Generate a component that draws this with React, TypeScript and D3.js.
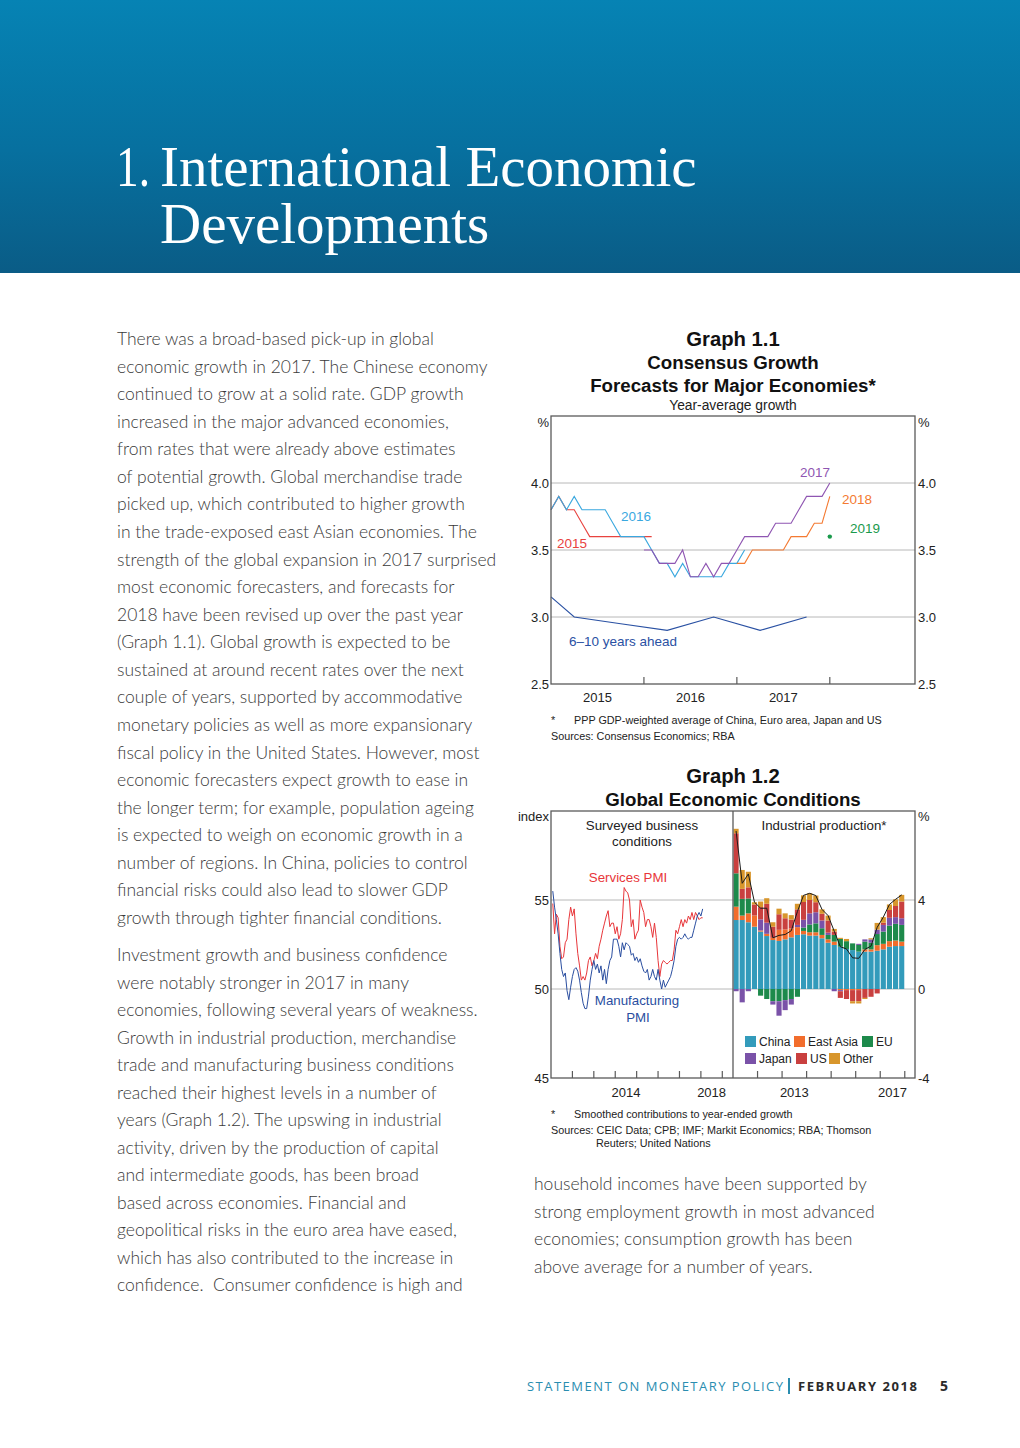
import React from 'react';
import * as d3 from 'd3';

// ---------- Page text ----------
const titleNumber = '1.';
const titleLines = ['International Economic', 'Developments'];

const leftParagraph1 = [
  'There was a broad-based pick-up in global',
  'economic growth in 2017. The Chinese economy',
  'continued to grow at a solid rate. GDP growth',
  'increased in the major advanced economies,',
  'from rates that were already above estimates',
  'of potential growth. Global merchandise trade',
  'picked up, which contributed to higher growth',
  'in the trade-exposed east Asian economies. The',
  'strength of the global expansion in 2017 surprised',
  'most economic forecasters, and forecasts for',
  '2018 have been revised up over the past year',
  '(Graph 1.1). Global growth is expected to be',
  'sustained at around recent rates over the next',
  'couple of years, supported by accommodative',
  'monetary policies as well as more expansionary',
  'fiscal policy in the United States. However, most',
  'economic forecasters expect growth to ease in',
  'the longer term; for example, population ageing',
  'is expected to weigh on economic growth in a',
  'number of regions. In China, policies to control',
  'financial risks could also lead to slower GDP',
  'growth through tighter financial conditions.',
];
const leftParagraph2 = [
  'Investment growth and business confidence',
  'were notably stronger in 2017 in many',
  'economies, following several years of weakness.',
  'Growth in industrial production, merchandise',
  'trade and manufacturing business conditions',
  'reached their highest levels in a number of',
  'years (Graph 1.2). The upswing in industrial',
  'activity, driven by the production of capital',
  'and intermediate goods, has been broad',
  'based across economies. Financial and',
  'geopolitical risks in the euro area have eased,',
  'which has also contributed to the increase in',
  'confidence.\u00a0 Consumer confidence is high and',
];
const rightParagraph = [
  'household incomes have been supported by',
  'strong employment growth in most advanced',
  'economies; consumption growth has been',
  'above average for a number of years.',
];

// ---------- Graph 1.1 data (monthly index, 0 = Jan 2015) ----------
const g1YTicks = [2.5, 3.0, 3.5, 4.0];
const g1Gridlines = [3.0, 3.5, 4.0];
const g1YearLabels = ['2015', '2016', '2017'];
const fc2015Start = 0;
const fc2015 = [3.8, 3.9, 3.8, 3.8, 3.7, 3.6, 3.6, 3.6, 3.6, 3.6, 3.6, 3.6, 3.6, 3.6];
const fc2016Start = 0;
const fc2016 = [3.8, 3.9, 3.8, 3.9, 3.8, 3.8, 3.8, 3.8, 3.7, 3.6, 3.6, 3.6, 3.6, 3.5, 3.4, 3.4, 3.3, 3.4, 3.3, 3.3, 3.3, 3.3, 3.3, 3.4, 3.4, 3.5];
const fc2017Start = 12;
const fc2017 = [3.5, 3.5, 3.4, 3.4, 3.4, 3.5, 3.3, 3.3, 3.4, 3.3, 3.4, 3.4, 3.5, 3.6, 3.6, 3.6, 3.6, 3.7, 3.7, 3.7, 3.8, 3.9, 3.9, 3.9, 4.0];
const fc2018Start = 24;
const fc2018 = [3.4, 3.4, 3.5, 3.5, 3.5, 3.5, 3.5, 3.6, 3.6, 3.6, 3.7, 3.7, 3.9];
const fc2019Month = 36;
const fc2019Value = 3.6;
const longTermMonths = [0, 3, 9, 15, 21, 27, 33];
const longTermValues = [3.15, 3.0, 2.95, 2.9, 3.0, 2.9, 3.0];

// ---------- Graph 1.2 data ----------
// PMIs, monthly from Feb 2011
const pmiStartMonth = 1;
const servicesPMI = [54.8, 53.1, 54.2, 54.0, 52.4, 51.7, 51.8, 52.6, 52.8, 53.9, 54.6, 54.1, 54.5, 53.1, 52.0, 51.3, 50.5, 50.7, 50.5, 50.9, 51.6, 51.8, 51.3, 51.6, 52.0, 51.7, 52.4, 52.8, 53.3, 53.7, 54.1, 54.4, 53.5, 53.7, 53.7, 53.1, 53.5, 52.8, 53.1, 53.9, 55.7, 55.5, 55.4, 55.0, 53.5, 53.9, 52.8, 53.1, 53.3, 55.0, 54.6, 54.3, 53.5, 53.9, 53.9, 53.5, 52.9, 53.7, 52.9, 51.6, 50.7, 51.4, 51.6, 51.5, 51.4, 51.5, 51.6, 51.6, 52.2, 53.3, 53.1, 53.5, 53.9, 53.5, 53.9, 53.7, 54.1, 53.9, 54.3, 53.9, 54.3, 54.1, 53.9, 54.0, 54.0];
const manufacturingPMI = [55.5, 54.6, 53.9, 53.1, 52.0, 51.1, 50.7, 50.9, 49.9, 49.4, 50.1, 50.7, 51.1, 51.2, 51.0, 50.5, 49.8, 49.2, 48.9, 48.9, 49.6, 50.5, 51.1, 51.6, 51.1, 51.4, 50.9, 51.3, 50.5, 51.1, 50.3, 51.1, 51.6, 51.8, 52.8, 52.8, 52.8, 52.4, 51.8, 52.6, 52.2, 52.6, 52.5, 52.4, 51.9, 52.0, 51.6, 51.8, 51.5, 51.7, 51.3, 51.0, 50.9, 51.1, 50.5, 50.7, 51.1, 50.7, 50.5, 51.1, 50.5, 50.0, 50.5, 50.1, 50.3, 50.5, 50.7, 51.1, 51.6, 52.4, 52.8, 52.9, 52.8, 52.9, 53.1, 52.9, 52.8, 52.9, 52.9, 53.3, 53.7, 54.1, 54.3, 54.1, 54.5];
const pmiYTicks = [45, 50, 55];
const pmiYearLabels = ['2014', '2018'];

// Industrial production contributions, quarterly from 2011 Q1 (ppt)
const ipKeys = ['China', 'East Asia', 'EU', 'Japan', 'US', 'Other'];
const ipChina = [3.1, 3.1, 3.0, 2.8, 2.58, 2.38, 2.2, 2.16, 2.23, 2.32, 2.43, 2.46, 2.4, 2.4, 2.28, 2.08, 1.98, 1.9, 1.8, 1.75, 1.68, 1.68, 1.68, 1.72, 1.78, 1.9, 1.93, 1.93];
const ipEastAsia = [0.6, 0.2, 0.4, 0.5, 0.05, 0.1, 0.1, 0.5, 0.45, 0.4, 0.35, 0.15, 0.15, 0.15, 0.15, 0.15, 0.15, -0.05, -0.05, -0.05, -0.05, 0.1, 0.1, 0.25, 0.25, 0.25, 0.25, 0.2];
const ipEU = [1.5, 0.75, 0.67, 0, -0.3, -0.45, -0.55, -0.55, -0.5, -0.45, -0.35, 0.15, 0.35, 0.4, 0.3, 0.2, 0.3, 0.35, 0.35, 0.3, 0.3, 0.35, 0.3, 0.5, 0.55, 0.7, 0.75, 0.75];
const ipJapan = [-0.1, -0.6, -0.1, 0, 0.5, 0.5, -0.15, -0.65, -0.45, -0.25, 0.1, 0.35, 0.5, 0.5, 0.35, 0.1, -0.1, -0.05, 0, 0, 0.05, 0.1, 0.15, 0.2, 0.3, 0.35, 0.3, 0.3];
const ipUS = [1.8, 0.45, 0.5, 0.5, 0.55, 0.85, 0.5, 0.7, 0.5, 0.4, 0.7, 0.8, 0.6, 0.45, 0.3, 0.55, 0.15, -0.3, -0.4, -0.5, -0.5, -0.4, -0.35, -0.2, 0.1, 0.35, 0.5, 0.75];
const ipOther = [0.2, 0.85, 0.7, 0.1, 0.25, 0.25, 0.2, 0.25, 0.22, 0.2, 0.25, 0.3, 0.3, 0.3, 0.2, 0.22, 0.12, 0.05, 0.1, -0.1, -0.1, -0.05, 0.05, 0.3, 0.25, 0.25, 0.3, 0.3];
const ipYTicks = [-4, 0, 4];
const ipYearLabels = ['2013', '2017'];

const ipColors: Record<string, string> = {
  China: '#339bbb',
  'East Asia': '#f26d2c',
  EU: '#1d8a4b',
  Japan: '#7a52a8',
  US: '#c9403f',
  Other: '#d8962c',
};

const SANS = '"Liberation Sans", Arial, sans-serif';
const AXIS = '#5a5a5a';
const GRID = '#b8b8b8';

function Header() {
  return (
    <g>
      <defs>
        <linearGradient id="hdr" x1="0" y1="0" x2="0" y2="1">
          <stop offset="0" stopColor="#0683b4" />
          <stop offset="0.55" stopColor="#07709f" />
          <stop offset="1" stopColor="#0a5c86" />
        </linearGradient>
      </defs>
      <rect x={0} y={0} width={1020} height={273} fill="url(#hdr)" />
      <g fontFamily='"Liberation Serif", "Times New Roman", serif' fill="#ffffff" fontSize={57}>
        <text x={116} y={186} textLength={34} lengthAdjust="spacingAndGlyphs">{titleNumber}</text>
        <text x={160} y={186}>{titleLines[0]}</text>
        <text x={160} y={243}>{titleLines[1]}</text>
      </g>
    </g>
  );
}

function BodyText() {
  const style = { fontFamily: 'Lato, "Open Sans", sans-serif', fontWeight: 300, fontSize: 17.5, fill: '#3a3a3a' } as const;
  return (
    <g style={style as any}>
      {leftParagraph1.map((t, i) => (
        <text key={'a' + i} x={117} y={345 + 27.57 * i}>{t}</text>
      ))}
      {leftParagraph2.map((t, i) => (
        <text key={'b' + i} x={117} y={961 + 27.5 * i}>{t}</text>
      ))}
      {rightParagraph.map((t, i) => (
        <text key={'c' + i} x={534} y={1190 + 27.7 * i}>{t}</text>
      ))}
    </g>
  );
}

function Graph11() {
  const L = 551, R = 915, T = 416, B = 684;
  const x = d3.scaleLinear().domain([0, 47]).range([L, R]);
  const y = d3.scaleLinear().domain([2.5, 4.5]).range([B, T]);
  const mk = (vals: number[], start: number) =>
    d3.line<number>().x((_, i) => x(start + i)).y((d) => y(d))(vals) || '';
  const lt = d3.line<number>().x((_, i) => x(longTermMonths[i])).y((d) => y(d))(longTermValues) || '';
  const cx = 733;
  return (
    <g fontFamily={SANS}>
      <text x={cx} y={346} textAnchor="middle" fontSize={20.3} fontWeight="bold" fill="#111">Graph 1.1</text>
      <text x={cx} y={369} textAnchor="middle" fontSize={18.7} fontWeight="bold" fill="#111">Consensus Growth</text>
      <text x={cx} y={392} textAnchor="middle" fontSize={18.7} fontWeight="bold" fill="#111">Forecasts for Major Economies*</text>
      <text x={cx} y={410} textAnchor="middle" fontSize={13.8} fill="#222">Year-average growth</text>

      {g1Gridlines.map((v) => (
        <line key={v} x1={L} x2={R} y1={y(v)} y2={y(v)} stroke={GRID} strokeWidth={1} />
      ))}

      <path d={lt} fill="none" stroke="#2a51a3" strokeWidth={1.1} />
      <path d={mk(fc2015, fc2015Start)} fill="none" stroke="#e8433f" strokeWidth={1.1} />
      <path d={mk(fc2016, fc2016Start)} fill="none" stroke="#3aa8df" strokeWidth={1.1} />
      <path d={mk(fc2017, fc2017Start)} fill="none" stroke="#8f56b2" strokeWidth={1.1} />
      <path d={mk(fc2018, fc2018Start)} fill="none" stroke="#f47a32" strokeWidth={1.1} />
      <circle cx={x(fc2019Month)} cy={y(fc2019Value)} r={2.2} fill="#1a9a4c" />

      <rect x={L} y={T} width={R - L} height={B - T} fill="none" stroke={AXIS} strokeWidth={1.3} />
      {[12, 24, 36].map((m) => (
        <line key={m} x1={x(m)} x2={x(m)} y1={B} y2={B - 7} stroke={AXIS} strokeWidth={1.2} />
      ))}
      {g1YearLabels.map((t, i) => (
        <text key={t} x={x(6 + 12 * i)} y={702} textAnchor="middle" fontSize={13} fill="#222">{t}</text>
      ))}
      {g1YTicks.map((v) => (
        <g key={v}>
          <text x={549} y={y(v) + 5} textAnchor="end" fontSize={13} fill="#222">{v.toFixed(1)}</text>
          <text x={918} y={y(v) + 5} fontSize={13} fill="#222">{v.toFixed(1)}</text>
        </g>
      ))}
      <text x={549} y={427} textAnchor="end" fontSize={13} fill="#222">%</text>
      <text x={918} y={427} fontSize={13} fill="#222">%</text>

      <text x={800} y={477} fontSize={13.5} fill="#8f56b2">2017</text>
      <text x={842} y={504} fontSize={13.5} fill="#f47a32">2018</text>
      <text x={850} y={533} fontSize={13.5} fill="#1a9a4c">2019</text>
      <text x={621} y={521} fontSize={13.5} fill="#3aa8df">2016</text>
      <text x={557} y={548} fontSize={13.5} fill="#e8433f">2015</text>
      <text x={569} y={646} fontSize={13.5} fill="#2a51a3">6–10 years ahead</text>

      <text x={551} y={724} fontSize={10.8} fill="#222">*</text>
      <text x={574} y={724} fontSize={10.8} fill="#222">PPP GDP-weighted average of China, Euro area, Japan and US</text>
      <text x={551} y={740} fontSize={10.8} fill="#222">Sources: Consensus Economics; RBA</text>
    </g>
  );
}

function Graph12() {
  const L = 551, M = 733, R = 915, T = 811, B = 1078;
  const xL = d3.scaleLinear().domain([0, 102]).range([L, M]);
  const yL = d3.scaleLinear().domain([45, 60]).range([B, T]);
  const xR = d3.scaleLinear().domain([0, 89]).range([M, R]);
  const yR = d3.scaleLinear().domain([-4, 8]).range([B, T]);

  const pmiLine = d3.line<number>().x((_, i) => xL(pmiStartMonth + i)).y((d) => yL(d));

  const cols = [ipChina, ipEastAsia, ipEU, ipJapan, ipUS, ipOther];
  const rows = ipChina.map((_, i) => {
    const r: Record<string, number> = {};
    ipKeys.forEach((k, j) => (r[k] = cols[j][i]));
    return r;
  });
  const stacked = d3.stack<Record<string, number>>().keys(ipKeys).offset(d3.stackOffsetDiverging)(rows);
  const totals = rows.map((r) => d3.sum(ipKeys, (k) => r[k]));
  const totalLine = d3.line<number>().x((_, i) => xR(3 * i + 1.5)).y((d) => yR(d))(totals) || '';
  const bw = xR(3) - xR(0);

  const legend = [
    { k: 'China', x: 745, y: 1036 },
    { k: 'East Asia', x: 794, y: 1036 },
    { k: 'EU', x: 862, y: 1036 },
    { k: 'Japan', x: 745, y: 1053 },
    { k: 'US', x: 796, y: 1053 },
    { k: 'Other', x: 829, y: 1053 },
  ];

  const cx = 733;
  return (
    <g fontFamily={SANS}>
      <text x={cx} y={783} textAnchor="middle" fontSize={20.3} fontWeight="bold" fill="#111">Graph 1.2</text>
      <text x={cx} y={806} textAnchor="middle" fontSize={18.7} fontWeight="bold" fill="#111">Global Economic Conditions</text>

      {pmiYTicks.filter((v) => v > 45).map((v) => (
        <line key={v} x1={L} x2={R} y1={yL(v)} y2={yL(v)} stroke={GRID} strokeWidth={1} />
      ))}

      {stacked.map((s) => (
        <g key={s.key} fill={ipColors[s.key]}>
          {s.map((d, i) => {
            const y0 = yR(d[0]);
            const y1 = yR(d[1]);
            const h = Math.abs(y0 - y1);
            if (h < 0.01) return null;
            return <rect key={i} x={xR(3 * i) + 0.5} width={bw - 1} y={Math.min(y0, y1)} height={h} />;
          })}
        </g>
      ))}
      <path d={totalLine} fill="none" stroke="#1a1a1a" strokeWidth={1} />

      <path d={pmiLine(servicesPMI) || ''} fill="none" stroke="#e8363a" strokeWidth={1} />
      <path d={pmiLine(manufacturingPMI) || ''} fill="none" stroke="#2a4ea0" strokeWidth={1} />

      <rect x={L} y={T} width={R - L} height={B - T} fill="none" stroke={AXIS} strokeWidth={1.3} />
      <line x1={M} x2={M} y1={T} y2={B} stroke={AXIS} strokeWidth={1.3} />

      {d3.range(12, 97, 12).map((m) => (
        <line key={'l' + m} x1={xL(m)} x2={xL(m)} y1={B} y2={B - 7} stroke={AXIS} strokeWidth={1.2} />
      ))}
      {d3.range(12, 85, 12).map((m) => (
        <line key={'r' + m} x1={xR(m)} x2={xR(m)} y1={B} y2={B - 7} stroke={AXIS} strokeWidth={1.2} />
      ))}
      {pmiYearLabels.map((t) => (
        <text key={t} x={xL((+t - 2011) * 12 + 6)} y={1097} textAnchor="middle" fontSize={13} fill="#222">{t}</text>
      ))}
      {ipYearLabels.map((t) => (
        <text key={t} x={xR((+t - 2011) * 12 + 6)} y={1097} textAnchor="middle" fontSize={13} fill="#222">{t}</text>
      ))}
      {pmiYTicks.map((v) => (
        <text key={v} x={549} y={yL(v) + 5} textAnchor="end" fontSize={13} fill="#222">{v}</text>
      ))}
      {ipYTicks.map((v) => (
        <text key={v} x={918} y={yR(v) + 5} fontSize={13} fill="#222">{v}</text>
      ))}
      <text x={549} y={821} textAnchor="end" fontSize={13} fill="#222">index</text>
      <text x={918} y={821} fontSize={13} fill="#222">%</text>

      <text x={642} y={830} textAnchor="middle" fontSize={13.3} fill="#222">Surveyed business</text>
      <text x={642} y={846} textAnchor="middle" fontSize={13.3} fill="#222">conditions</text>
      <text x={824} y={830} textAnchor="middle" fontSize={13.3} fill="#222">Industrial production*</text>
      <text x={628} y={882} textAnchor="middle" fontSize={13.3} fill="#e8363a">Services PMI</text>
      <text x={637} y={1005} textAnchor="middle" fontSize={13.3} fill="#2a4ea0">Manufacturing</text>
      <text x={638} y={1022} textAnchor="middle" fontSize={13.3} fill="#2a4ea0">PMI</text>

      {legend.map((l) => (
        <g key={l.k}>
          <rect x={l.x} y={l.y} width={11} height={11} fill={ipColors[l.k]} />
          <text x={l.x + 14} y={l.y + 10} fontSize={12} fill="#222">{l.k}</text>
        </g>
      ))}

      <text x={551} y={1118} fontSize={10.8} fill="#222">*</text>
      <text x={574} y={1118} fontSize={10.8} fill="#222">Smoothed contributions to year-ended growth</text>
      <text x={551} y={1134} fontSize={10.8} fill="#222">Sources: CEIC Data; CPB; IMF; Markit Economics; RBA; Thomson</text>
      <text x={596} y={1147} fontSize={10.8} fill="#222">Reuters; United Nations</text>
    </g>
  );
}

function Footer() {
  return (
    <g fontFamily='"Open Sans", "Liberation Sans", sans-serif' fontSize={13}>
      <text x={527} y={1391} fill="#2a8db0" textLength={256} lengthAdjust="spacing">STATEMENT ON MONETARY POLICY</text>
      <rect x={788} y={1378} width={2} height={16} fill="#2a8db0" />
      <text x={798} y={1391} fill="#2b2b2b" fontWeight="bold" textLength={119} lengthAdjust="spacing">FEBRUARY 2018</text>
      <text x={940} y={1391} fill="#2b2b2b" fontWeight="bold" fontSize={14}>5</text>
    </g>
  );
}

export default function App() {
  return (
    <svg
      width={1020}
      height={1448}
      viewBox="0 0 1020 1448"
      style={{ position: 'absolute', left: 0, top: 0, background: '#ffffff', display: 'block' }}
    >
      <rect x={0} y={0} width={1020} height={1448} fill="#ffffff" />
      <Header />
      <BodyText />
      <Graph11 />
      <Graph12 />
      <Footer />
    </svg>
  );
}
